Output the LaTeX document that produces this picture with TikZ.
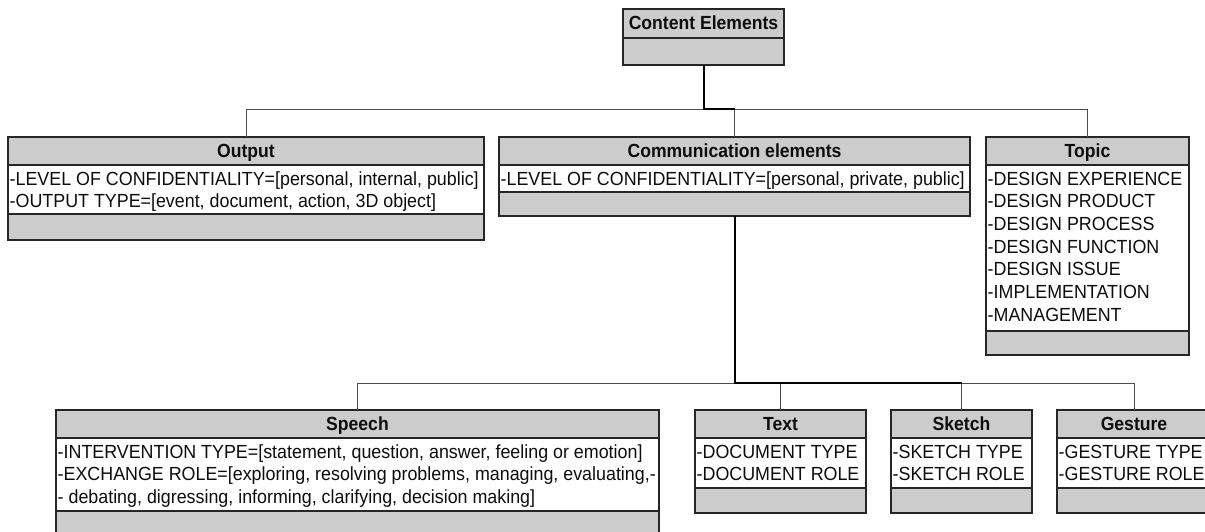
\documentclass[tikz,border=0pt]{standalone}
\usepackage{fontspec}
\usepackage{graphicx}
\setmainfont{Liberation Sans}
\tikzset{
  comp/.style={draw=black!85, line width=1.2pt, inner sep=0pt, outer sep=0pt, anchor=north west},
  graycomp/.style={comp, fill=black!20},
  whitecomp/.style={comp, fill=white},
  titletext/.style={font=\fontsize{19}{22}\selectfont\bfseries, inner sep=0pt, anchor=base, text=black!95},
  attrtext/.style={font=\fontsize{19}{22}\selectfont, inner sep=0pt, anchor=base west, text=black!95},
  thinconn/.style={draw=black!70, line width=0.9pt},
  thickconn/.style={draw=black, line width=2pt},
}
\newcommand\ttl[1]{\scalebox{0.925}[1]{#1}}
\newcommand\att[1]{\scalebox{0.94}[1]{#1}}
% #1 name, #2 x1, #3 x2, #4 ytop, #5 yhead, #6 yattr, #7 ybot, #8 title, #9 lines
\newcommand\umlbox[9]{%
  \pgfmathsetmacro\bw{#3-#2}%
  \pgfmathsetmacro\hh{#5-#4}%
  \pgfmathsetmacro\ha{#6-#5}%
  \pgfmathsetmacro\hb{#7-#6}%
  \node[graycomp, minimum width=\bw pt, minimum height=\hh pt] (#1) at (#2,#4) {};
  \node[whitecomp, minimum width=\bw pt, minimum height=\ha pt] (#1-a) at (#2,#5) {};
  \node[graycomp, minimum width=\bw pt, minimum height=\hb pt] (#1-b) at (#2,#6) {};
  \node[titletext] (#1-t) at ({(#2+#3)/2},{#4+20.5}) {\ttl{#8}};
  \foreach \t [count=\i] in {#9} {
    \node[attrtext] (#1-l\i) at ({#2+1.5},{#5+20+(\i-1)*22.7}) {\att{\t}};
  }
}
\begin{document}
\begin{tikzpicture}[x=1pt,y=-1pt]
\useasboundingbox (0,0) rectangle (1205,531);

% Content Elements
\node[graycomp, minimum width=161pt, minimum height=29pt] (ce) at (623,9) {};
\node[graycomp, minimum width=161pt, minimum height=27pt] (ce-b) at (623,38) {};
\node[titletext] (ce-t) at (703.5,29.5) {\ttl{Content Elements}};

\umlbox{out}{8}{484}{137}{165}{214}{240}{Output}
  {{-LEVEL OF CONFIDENTIALITY=[personal, internal, public]},{-OUTPUT TYPE=[event, document, action, 3D object]}}
\umlbox{comm}{499}{970}{137}{165}{192}{216}{Communication elements}
  {{-LEVEL OF CONFIDENTIALITY=[personal, private, public]}}
\umlbox{topic}{986}{1189}{137}{165}{331}{355}{Topic}
  {{-DESIGN EXPERIENCE},{-DESIGN PRODUCT},{-DESIGN PROCESS},{-DESIGN FUNCTION},{-DESIGN ISSUE},{-IMPLEMENTATION},{-MANAGEMENT}}
\umlbox{speech}{56}{659}{410}{438}{511}{540}{Speech}
  {{-INTERVENTION TYPE=[statement, question, answer, feeling or emotion]},{-EXCHANGE ROLE=[exploring, resolving problems, managing, evaluating,-},{- debating, digressing, informing, clarifying, decision making]}}
\umlbox{text}{695}{866}{410}{438}{488}{513}{Text}
  {{-DOCUMENT TYPE},{-DOCUMENT ROLE}}
\umlbox{sketch}{891}{1032}{410}{438}{488}{513}{Sketch}
  {{-SKETCH TYPE},{-SKETCH ROLE}}
\umlbox{gesture}{1057}{1211}{410}{438}{488}{513}{Gesture}
  {{-GESTURE TYPE},{-GESTURE ROLE}}

% connectors
\coordinate (bus1) at (0,109);
\coordinate (bus2) at (0,383);
\draw[thinconn] (out.north) -- (out.north |- bus1) -- (topic.north |- bus1) -- (topic.north);
\draw[thinconn] (comm.north) -- (comm.north |- bus1);
\draw[thickconn] (ce-b.south) -- (ce-b.south |- bus1) -- (comm.north |- bus1);

\draw[thinconn] (speech.north) -- (speech.north |- bus2) -- (gesture.north |- bus2) -- (gesture.north);
\draw[thinconn] (text.north) -- (text.north |- bus2);
\draw[thinconn] (sketch.north) -- (sketch.north |- bus2);
\draw[thickconn] (comm-b.south) -- (comm-b.south |- bus2) -- (sketch.north |- bus2);
\end{tikzpicture}
\end{document}
